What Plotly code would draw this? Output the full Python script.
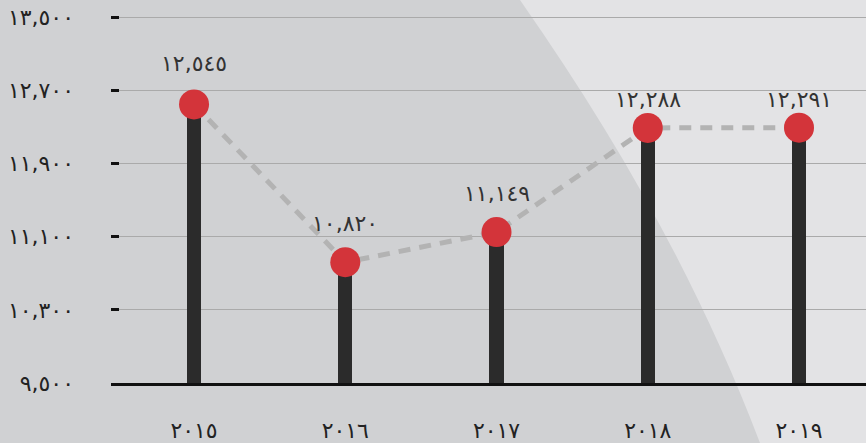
import plotly.graph_objects as go

# Yearly values
years = ["٢٠١٥", "٢٠١٦", "٢٠١٧", "٢٠١٨", "٢٠١٩"]
values = [12545, 10820, 11149, 12288, 12291]
value_labels = ["١٢,٥٤٥", "١٠,٨٢٠", "١١,١٤٩", "١٢,٢٨٨", "١٢,٢٩١"]
label_lift = [41, 39, 39, 28, 28]

y_ticks = [9500, 10300, 11100, 11900, 12700, 13500]
y_tick_text = ["٩,٥٠٠", "١٠,٣٠٠", "١١,١٠٠", "١١,٩٠٠", "١٢,٧٠٠", "١٣,٥٠٠"]

W, H = 866, 443
ML, MR, MT, MB = 111, 0, 15, 60
PW, PH = W - ML - MR, H - MT - MB
Y_TOP_PAD = 22  # keeps the top gridline a couple of pixels inside the plot area

def px(x):
    return (x - ML) / PW

def py(y):
    return (H - MB - y) / PH

FONT = "DejaVu Sans"
FS = 22
xs = list(range(len(years)))

fig = go.Figure()

# stems
fig.add_trace(go.Bar(
    x=xs, y=[v - y_ticks[0] for v in values], base=y_ticks[0],
    width=0.093, marker=dict(color="#2b2b2b", line=dict(width=0)),
    hoverinfo="skip", showlegend=False,
))

# dashed connector
fig.add_trace(go.Scatter(
    x=xs, y=values, mode="lines",
    line=dict(color="#b3b3b3", width=5, dash="12px,9px"),
    hoverinfo="skip", showlegend=False,
))

# dots
fig.add_trace(go.Scatter(
    x=xs, y=values, mode="markers",
    marker=dict(size=30, color="#d3343a", line=dict(width=0)),
    showlegend=False,
))

for i, (v, t) in enumerate(zip(values, value_labels)):
    fig.add_annotation(
        x=xs[i], y=v, text=t, showarrow=False, yshift=label_lift[i],
        xanchor="center", yanchor="middle",
        font=dict(family=FONT, size=FS, color="#333333"),
    )

# lighter curved panel on the right
p0, c1, c2, p3 = (520, 0), (625, 150), (703, 293), (760, 443)
path = (
    f"M {px(506)},{py(-20)} L {px(p0[0])},{py(p0[1])} "
    f"C {px(c1[0])},{py(c1[1])} {px(c2[0])},{py(c2[1])} {px(p3[0])},{py(p3[1])} "
    f"L {px(766)},{py(460)} L {px(900)},{py(460)} L {px(900)},{py(-20)} Z"
)
fig.add_shape(type="path", path=path, xref="paper", yref="paper",
              fillcolor="#e3e3e5", line=dict(width=0), layer="below")

fig.update_layout(
    width=W, height=H,
    margin=dict(l=ML, r=MR, t=MT, b=MB),
    paper_bgcolor="#d0d1d3", plot_bgcolor="rgba(0,0,0,0)",
    font=dict(family=FONT, color="#222222"),
    bargap=0,
    xaxis=dict(
        range=[-0.549, 4.443], tickvals=xs, ticktext=years,
        showgrid=False, zeroline=False,
        showline=True, linecolor="#111111", linewidth=2.5,
        ticks="", tickfont=dict(family=FONT, size=FS, color="#222222"),
        ticklabelstandoff=26,
    ),
    yaxis=dict(
        range=[y_ticks[0], y_ticks[-1] + Y_TOP_PAD], tickvals=y_ticks, ticktext=y_tick_text,
        showgrid=True, gridcolor="#aaaaaa", gridwidth=1,
        zeroline=False, showline=False,
        ticks="inside", ticklen=8, tickwidth=2.5, tickcolor="#111111",
        tickfont=dict(family=FONT, size=FS, color="#222222"),
        ticklabelstandoff=36,
    ),
)

fig.write_html("out.html")
